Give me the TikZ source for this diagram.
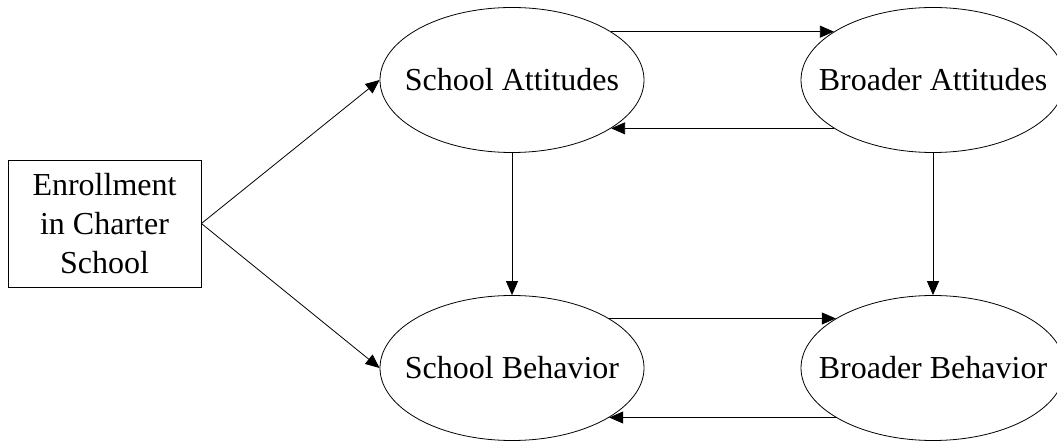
\documentclass[tikz,border=0pt]{standalone}
\usepackage{fontspec}
\setmainfont{Liberation Serif}
\usetikzlibrary{arrows.meta,shapes.geometric}

\begin{document}
\begin{tikzpicture}[x=0.75pt, y=-0.75pt, line width=0.6pt,
  font=\fontsize{24}{29}\selectfont,
  latent/.style={draw, ellipse, minimum width=198pt, minimum height=108.75pt, inner ysep=0pt, inner xsep=-20pt},
  link/.style={-{Triangle[length=10.5pt, width=9pt]}}]
  \useasboundingbox (0,0) rectangle (1057,445);
  % boxes
  \node[draw, minimum width=144.75pt, minimum height=95.25pt, inner sep=0pt, align=center] (enroll) at (104.5,223.5) {Enrollment\\in Charter\\School};
  \node[latent] (schatt) at (512,80) {School Attitudes};
  \node[latent] (broatt) at (933,80) {Broader Attitudes};
  \node[latent] (schbeh) at (512,368) {School Behavior};
  \node[latent] (brobeh) at (933,368) {Broader Behavior};
  % paths
  \draw[link] (enroll.east) -- (schatt.west);
  \draw[link] (enroll.east) -- (schbeh.west);
  \draw[link] (schatt.26) -- (broatt.154);
  \draw[link] (broatt.206) -- (schatt.334);
  \draw[link] (schbeh.27) -- (brobeh.153);
  \draw[link] (brobeh.207) -- (schbeh.333);
  \draw[link] (schatt.south) -- (schbeh.north);
  \draw[link] (broatt.south) -- (brobeh.north);
\end{tikzpicture}
\end{document}
